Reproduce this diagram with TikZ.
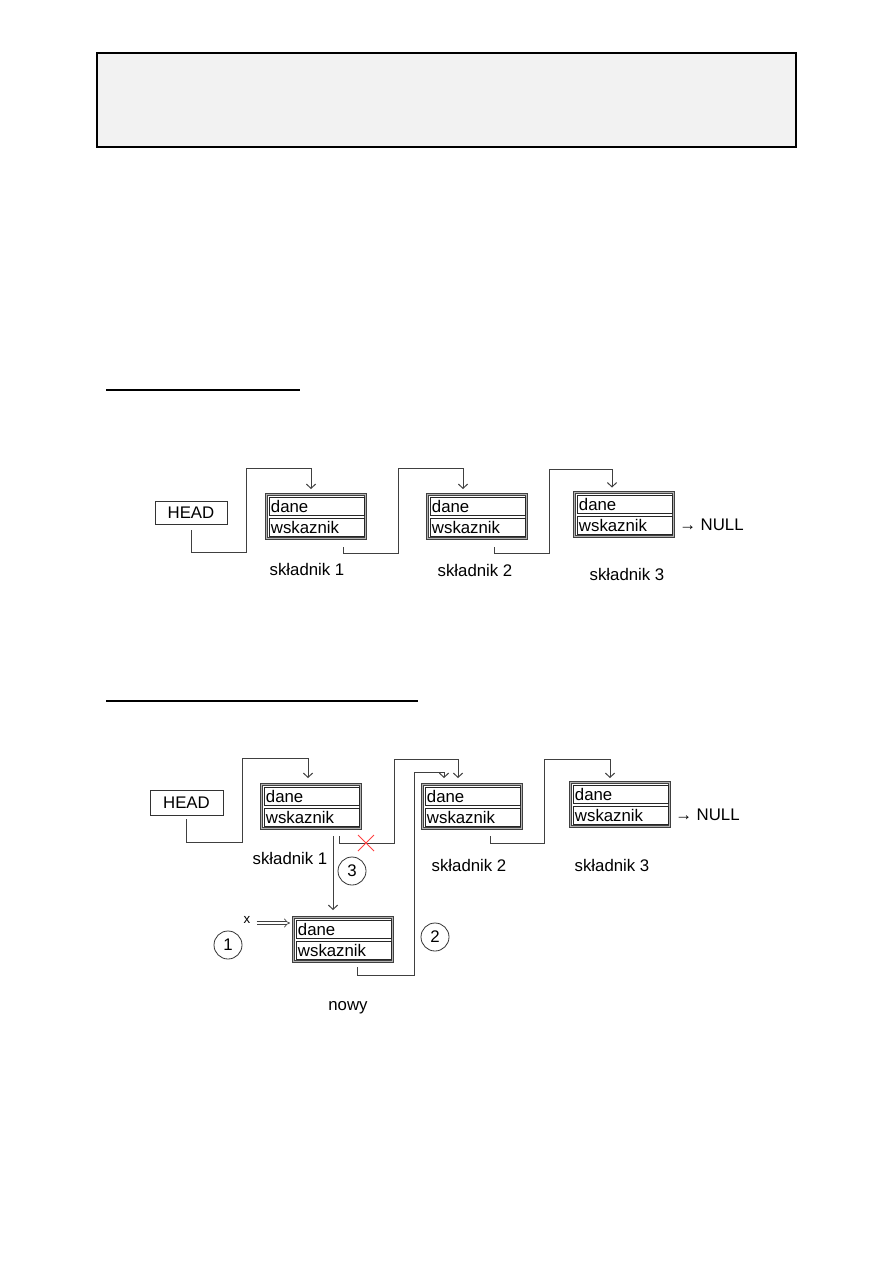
\documentclass[tikz,border=0pt]{standalone}
\usepackage{fontspec}
\setmainfont{Liberation Sans}
\usetikzlibrary{arrows.meta,calc}
\newcommand\elem[3]{%
  \node[frame] (#1) at (#2+51,#3+23.5) {};
  \node[cell] (#1-d) at (#2+3.5,#3+4) {dane};
  \node[cell] (#1-w) at (#2+3.5,#3+25) {wskaznik};
}
\begin{document}
\begin{tikzpicture}[x=0.75pt,y=-0.75pt,
  conn/.style={draw=black!75, line width=0.75pt},
  arr/.style={conn, -{Straight Barb[length=3.2pt,width=7pt]}},
  txt/.style={font=\fontsize{12.6}{14}\selectfont},
  cell/.style={txt, draw=black!85, line width=0.7pt, rectangle, inner xsep=1.5pt, inner ysep=0pt,
     text width=68.25pt, minimum height=13.5pt, align=left, anchor=north west},
  frame/.style={draw=black!75, double=black!30, double distance=0.75pt, line width=0.75pt,
     inner sep=0pt, minimum width=74.25pt, minimum height=33pt},
  lbl/.style={txt, inner sep=0pt},
  headbox/.style={txt, draw=black!80, line width=0.7pt, inner sep=0pt},
  num/.style={txt, circle, draw=black!80, line width=0.6pt, minimum size=21pt, inner sep=0pt}
]
\useasboundingbox (0,0) rectangle (893,1263);
% top gray box
\draw[fill=black!5, line width=1.1pt] (97,53) rectangle (796,147);
% underlines
\draw[line width=1.5pt] (106,390) -- (300,390);
\draw[line width=1.5pt] (106,701) -- (418,701);

% ---------- diagram 1 ----------
\node[headbox, minimum width=54pt, minimum height=17.25pt] (h1) at (191,512.5) {HEAD};
\elem{e1}{265}{493}
\elem{e2}{426}{493}
\elem{e3}{573}{491}
\draw[arr] ($(h1.south)+(0,6)$) |- (246,552) -- (246,468) -| ($(e1.north west)+(45,-5)$);
\draw[arr] ($(e1.south west)+(77,8)$) |- (398,553) -- (398,468) -| ($(e2.north west)+(36,-5)$);
\draw[arr] ($(e2.south west)+(67,8)$) |- (549,553) -- (549,469) -| ($(e3.north west)+(38,-4.5)$);
\node[lbl, anchor=west] (null1) at (679,525) {→ NULL};
\node[lbl] (l11) at (307,569) {składnik 1};
\node[lbl] (l12) at (475,570) {składnik 2};
\node[lbl] (l13) at (627,574) {składnik 3};

% ---------- diagram 2 ----------
\node[headbox, minimum width=54.75pt, minimum height=18.75pt] (h2) at (186.5,802.5) {HEAD};
\elem{f1}{260}{783}
\elem{f2}{421}{783}
\elem{f3}{569}{781}
\elem{nw}{292}{916}
\draw[arr] ($(h2.south)+(0,4)$) |- (242,842) -- (242,758) -| ($(f1.north west)+(47,-6)$);
\draw[arr] ($(f1.south west)+(78,7)$) |- (394,843) -- (394,759) -| ($(f2.north west)+(36,-6)$);
\draw[arr] ($(f2.south west)+(68,7)$) |- (544,843) -- (544,759) -| ($(f3.north west)+(40,-4)$);
\draw[arr] ($(f1.south west)+(72,7)$) -- ($(nw.north west)+(40,-7)$);
\draw[arr] ($(nw.south west)+(64,5)$) |- (414,975) -- (414,772) -| ($(f2.north west)+(22,-6)$);
% red cross
\draw[red!75, line width=0.6pt] (358,835) -- (374,851) (358,851) -- (374,835);
\node[lbl, anchor=west] (null2) at (675,815) {→ NULL};
\node[lbl] (l21) at (290,858) {składnik 1};
\node[lbl] (l22) at (469,865) {składnik 2};
\node[lbl] (l23) at (612,865) {składnik 3};
\node[lbl] (lnowy) at (348,1008) {nowy};
\node[num] (c1) at (228,945) {1};
\node[num] (c2) at (435,937) {2};
\node[num] (c3) at (352,871) {3};
\node[font=\fontsize{10}{12}\selectfont, inner sep=0pt] (xv) at (247,920) {x};
\coordinate (xa) at ($(xv.east)+(6,3)$);
\coordinate (nwx) at ($(nw.west)+(-3,0)$);
\draw[line width=0.5pt, double distance=1.8pt, draw=black!75, -{Implies}] (xa) -- (xa -| nwx);
\end{tikzpicture}
\end{document}
